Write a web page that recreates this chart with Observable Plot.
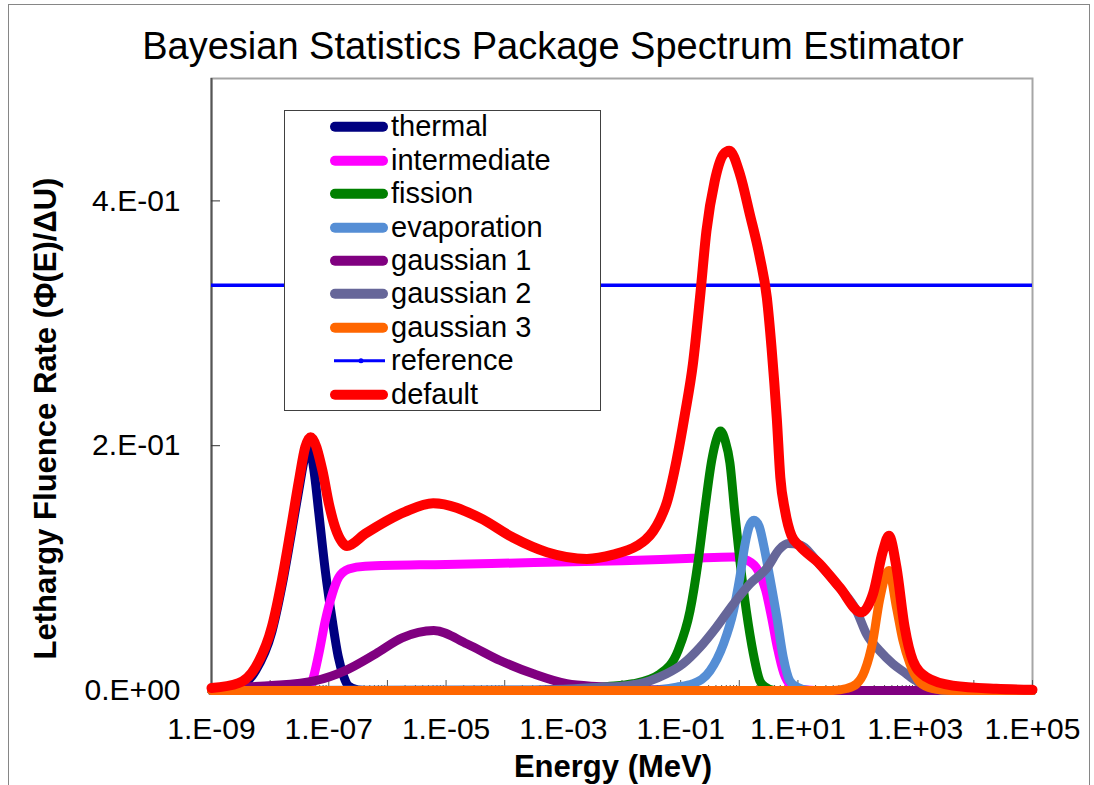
<!DOCTYPE html>
<html>
<head>
<meta charset="utf-8">
<script src="https://cdn.jsdelivr.net/npm/d3@7"></script>
<script src="https://cdn.jsdelivr.net/npm/@observablehq/plot@0.6"></script>
<style>
  body { margin: 0; background: #fff; }
  #chart { position: relative; width: 1094px; height: 785px; overflow: hidden; background: #fff;
           font-family: "Liberation Sans", Arial, sans-serif; color: #000; }
  #outer { position: absolute; left: 8px; top: 4px; width: 1082px; height: 900px;
           border: 1.5px solid #868686; box-sizing: border-box; }
  #plot { position: absolute; left: 0; top: 0; }
  #title { position: absolute; left: 0; width: 1106px; top: 27px; text-align: center;
           font-size: 38px; line-height: 38px; white-space: nowrap; }
  #xlabel { position: absolute; left: 0; width: 1226px; top: 751px; text-align: center;
            font-size: 31px; line-height: 31px; font-weight: bold; white-space: nowrap; }
  #ylabel { position: absolute; left: -255px; top: 402.5px; width: 600px; text-align: center;
            font-size: 31px; line-height: 31px; font-weight: bold; white-space: nowrap;
            transform: rotate(-90deg); }
  #legend { position: absolute; left: 284px; top: 110px; width: 317px; height: 301px;
            border: 1.3px solid #404040; background: #fff; box-sizing: border-box; }
  .row { position: absolute; left: 0; height: 33.4px; display: flex; align-items: center; }
  .row svg { display: block; flex: none; }
  .row span { font-size: 29px; line-height: 33.4px; white-space: nowrap; }
</style>
</head>
<body>
<div id="chart">
  <div id="outer"></div>
  <div id="plot"></div>
  <div id="title">Bayesian Statistics Package Spectrum Estimator</div>
  <div id="xlabel">Energy (MeV)</div>
  <div id="ylabel">Lethargy Fluence Rate (Φ(E)/ΔU)</div>
  <div id="legend"></div>
</div>
<script>
// Energy positions are given as log10(E / MeV); values are lethargy fluence rate.
const thermalLogE = [-9.0, -8.54, -8.25, -7.97, -7.80, -7.65, -7.51, -7.40, -7.33, -7.24, -7.17, -7.06, -6.94, -6.84, -6.75, -6.67, -6.50, -6.30, 5.0];
const thermalPhi  = [0, 0.003, 0.016, 0.048, 0.085, 0.125, 0.164, 0.192, 0.198, 0.175, 0.145, 0.098, 0.057, 0.028, 0.012, 0.004, 0.0005, 0, 0];

const intermediateLogE = [-9.0, -7.50, -7.36, -7.28, -7.17, -7.06, -6.94, -6.83, -6.66, -6.38, -5.0, -3.5, -2.0, -0.8, -0.10, 0.15, 0.32, 0.45, 0.55, 0.65, 0.76, 0.88, 1.00, 1.30, 5.0];
const intermediatePhi  = [0, 0, 0.002, 0.008, 0.030, 0.057, 0.079, 0.0925, 0.0993, 0.1016, 0.103, 0.1045, 0.106, 0.108, 0.109, 0.106, 0.098, 0.082, 0.060, 0.035, 0.014, 0.004, 0.0012, 0, 0];

const fissionLogE = [-9.0, -3.0, -2.60, -2.37, -1.81, -1.35, -1.04, -0.84, -0.70, -0.59, -0.47, -0.39, -0.32, -0.24, -0.16, -0.08, 0.01, 0.12, 0.24, 0.35, 0.44, 0.60, 5.0];
const fissionPhi  = [0, 0, 0.001, 0.0027, 0.0055, 0.0136, 0.033, 0.065, 0.106, 0.147, 0.188, 0.205, 0.212, 0.204, 0.186, 0.147, 0.106, 0.065, 0.030, 0.008, 0.003, 0, 0];

const evaporationLogE = [-9.0, -1.5, -1.07, -0.79, -0.50, -0.27, -0.10, 0.01, 0.10, 0.17, 0.25, 0.34, 0.41, 0.52, 0.64, 0.75, 0.86, 0.98, 1.20, 5.0];
const evaporationPhi  = [0, 0.0005, 0.0027, 0.0055, 0.016, 0.038, 0.065, 0.0925, 0.120, 0.134, 0.139, 0.134, 0.120, 0.0925, 0.060, 0.027, 0.008, 0.003, 0, 0];

const gaussian1LogE = [-9.0, -8.54, -7.97, -7.23, -6.72, -6.20, -5.75, -5.21, -4.64, -4.08, -3.51, -2.94, -2.37, -1.50, -1.00, 5.0];
const gaussian1Phi  = [0.0015, 0.0027, 0.004, 0.008, 0.0163, 0.030, 0.043, 0.049, 0.038, 0.0245, 0.0136, 0.0055, 0.003, 0.0005, 0, 0];

const gaussian2LogE = [-9.0, -3.5, -3.0, -2.37, -1.92, -1.52, -1.24, -0.96, -0.67, -0.39, -0.10, 0.18, 0.47, 0.69, 0.83, 1.03, 1.37, 1.71, 2.00, 2.17, 2.39, 2.62, 2.85, 2.96, 3.19, 3.50, 5.0];
const gaussian2Phi  = [0, 0.0003, 0.001, 0.0027, 0.004, 0.008, 0.0136, 0.0218, 0.0353, 0.0517, 0.0707, 0.087, 0.100, 0.1157, 0.120, 0.119, 0.103, 0.084, 0.065, 0.046, 0.0327, 0.0218, 0.0136, 0.0095, 0.004, 0, 0];

const gaussian3LogE = [-9.0, 1.60, 1.83, 2.00, 2.14, 2.28, 2.39, 2.55, 2.68, 2.79, 2.91, 3.08, 3.30, 3.60, 5.0];
const gaussian3Phi  = [0, 0, 0.0016, 0.0054, 0.0163, 0.041, 0.0735, 0.098, 0.068, 0.041, 0.0218, 0.0068, 0.0016, 0, 0];

const referencePhi = 0.331;

const defaultLogE = [-9.0, -8.54, -8.25, -7.97, -7.80, -7.65, -7.51, -7.40, -7.31, -7.11, -7.00, -6.89, -6.77, -6.69, -6.38, -5.70, -5.22, -4.42, -3.86, -3.28, -2.60, -2.15, -1.75, -1.60, -1.47, -1.35, -1.24, -1.07, -0.93, -0.79, -0.67, -0.56, -0.42, -0.27, -0.17, 0.01, 0.18, 0.35, 0.47, 0.55, 0.64, 0.70, 0.78, 0.89, 1.03, 1.37, 1.71, 2.08, 2.28, 2.45, 2.55, 2.68, 2.82, 2.96, 3.19, 3.64, 4.38, 5.0];
const defaultPhi  = [0.002, 0.006, 0.019, 0.052, 0.090, 0.131, 0.171, 0.199, 0.207, 0.180, 0.153, 0.133, 0.121, 0.118, 0.128, 0.146, 0.153, 0.141, 0.125, 0.113, 0.1075, 0.111, 0.118, 0.123, 0.130, 0.140, 0.153, 0.188, 0.225, 0.267, 0.321, 0.3755, 0.416, 0.438, 0.441, 0.422, 0.389, 0.354, 0.321, 0.280, 0.222, 0.174, 0.147, 0.1265, 0.118, 0.1034, 0.0843, 0.0639, 0.0789, 0.114, 0.1265, 0.1007, 0.0517, 0.0245, 0.0109, 0.004, 0.0014, 0.0006];

const seriesNames  = ["thermal", "intermediate", "fission", "evaporation", "gaussian 1", "gaussian 2", "gaussian 3", "reference", "default"];
const seriesColors = ["#000080", "#FF00FF", "#008000", "#558ED5", "#800080", "#666699", "#FF6600", "#0000FF", "#FF0000"];

const xTickLabels = [1e-9, 1e-7, 1e-5, 1e-3, 1e-1, 1e1, 1e3, 1e5];
const yTickLabels = [0, 0.2, 0.4];

// "1.E-09" style scientific labels
function sci(v) {
  if (v === 0) return "0.E+00";
  const e = Math.floor(Math.log10(Math.abs(v)) + 1e-9);
  const m = Math.round(v / Math.pow(10, e));
  return `${m}.E${e < 0 ? "-" : "+"}${String(Math.abs(e)).padStart(2, "0")}`;
}

const rows = (logE, phi) => logE.map((u, i) => ({E: Math.pow(10, u), phi: phi[i]}));

const curves = [
  rows(thermalLogE, thermalPhi),
  rows(intermediateLogE, intermediatePhi),
  rows(fissionLogE, fissionPhi),
  rows(evaporationLogE, evaporationPhi),
  rows(gaussian1LogE, gaussian1Phi),
  rows(gaussian2LogE, gaussian2Phi),
  rows(gaussian3LogE, gaussian3Phi)
];

// decade and sub-decade tick positions along the log axis
const decades = d3.range(-9, 6).map(e => Math.pow(10, e));
const subDecades = d3.range(-9, 5).flatMap(e => d3.range(2, 10).map(k => k * Math.pow(10, e)));

const lineMarks = curves.map((data, i) =>
  Plot.line(data, {x: "E", y: "phi", stroke: seriesColors[i], strokeWidth: 9,
                   curve: "monotone-x", strokeLinejoin: "round"}));

const svg = Plot.plot({
  width: 1094,
  height: 785,
  marginLeft: 211,
  marginRight: 62,
  marginTop: 78,
  marginBottom: 95,
  x: {type: "log", domain: [1e-9, 1e5]},
  y: {domain: [0, 0.5]},
  style: {fontFamily: "'Liberation Sans', Arial, sans-serif", fontSize: "30px", background: "none", overflow: "visible", color: "#000"},
  marks: [
    Plot.frame({stroke: "#a6a6a6", strokeWidth: 2}),
    Plot.ruleX([1e-9], {stroke: "#555", strokeWidth: 2}),
    Plot.axisX(subDecades, {anchor: "bottom", tickSize: -5, fill: "none", stroke: "#555", label: null}),
    Plot.axisX(decades, {anchor: "bottom", tickSize: -10, fill: "none", stroke: "#555", label: null}),
    Plot.axisX(xTickLabels, {anchor: "bottom", tickSize: 0, tickPadding: 27, tickFormat: sci, fontSize: 30, label: null}),
    Plot.axisY(yTickLabels, {anchor: "left", tickSize: -9, fill: "none", stroke: "#333", label: null}),
    Plot.axisY(yTickLabels, {anchor: "left", tickSize: 0, tickPadding: 31, tickFormat: sci, fontSize: 30, label: null}),
    ...lineMarks,
    Plot.ruleY([referencePhi], {stroke: seriesColors[7], strokeWidth: 3.5}),
    Plot.line(rows(defaultLogE, defaultPhi), {x: "E", y: "phi", stroke: seriesColors[8], strokeWidth: 10,
                                              curve: "monotone-x", strokeLinejoin: "round"})
  ]
});
document.getElementById("plot").appendChild(svg);

// legend
const legend = document.getElementById("legend");
seriesNames.forEach((name, i) => {
  const row = document.createElement("div");
  row.className = "row";
  row.style.top = (-0.7 + i * 33.4) + "px";
  const isRef = name === "reference";
  const sw = isRef
    ? `<line x1="49" y1="16.7" x2="100" y2="16.7" stroke="${seriesColors[i]}" stroke-width="3"/><circle cx="76" cy="16.7" r="2.5" fill="${seriesColors[i]}"/>`
    : `<line x1="50" y1="16.7" x2="98" y2="16.7" stroke="${seriesColors[i]}" stroke-width="10" stroke-linecap="round"/>`;
  row.innerHTML = `<svg width="106" height="33.4">${sw}</svg><span>${name}</span>`;
  legend.appendChild(row);
});
</script>
</body>
</html>
